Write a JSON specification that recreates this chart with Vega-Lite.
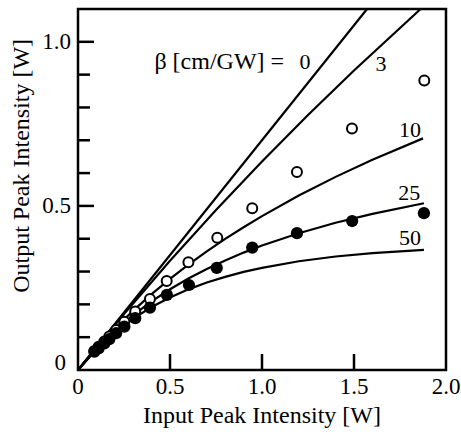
{
  "$schema": "https://vega.github.io/schema/vega-lite/v6.json",
  "width": 368,
  "height": 361,
  "autosize": {"type": "none"},
  "padding": {"left": 78, "top": 9, "right": 15, "bottom": 62},
  "background": "white",
  "config": {
    "view": {"stroke": "black", "strokeWidth": 2.5},
    "font": "Liberation Serif"
  },
  "datasets": {
    "curves": [
      {"beta": "0", "x": 0, "y": 0}, {"beta": "0", "x": 1.571, "y": 1.1},
      {"beta": "3", "x": 0, "y": 0}, {"beta": "3", "x": 0.25, "y": 0.1706}, {"beta": "3", "x": 0.5, "y": 0.3328}, {"beta": "3", "x": 0.75, "y": 0.4875}, {"beta": "3", "x": 1.0, "y": 0.6354}, {"beta": "3", "x": 1.25, "y": 0.777}, {"beta": "3", "x": 1.5, "y": 0.9128}, {"beta": "3", "x": 1.862, "y": 1.1},
      {"beta": "10", "x": 0, "y": 0}, {"beta": "10", "x": 0.1, "y": 0.0663}, {"beta": "10", "x": 0.2, "y": 0.1263}, {"beta": "10", "x": 0.3, "y": 0.1809}, {"beta": "10", "x": 0.4, "y": 0.2312}, {"beta": "10", "x": 0.5, "y": 0.2777}, {"beta": "10", "x": 0.6, "y": 0.3209}, {"beta": "10", "x": 0.7, "y": 0.3614}, {"beta": "10", "x": 0.8, "y": 0.3994}, {"beta": "10", "x": 0.9, "y": 0.4351}, {"beta": "10", "x": 1.0, "y": 0.469}, {"beta": "10", "x": 1.2, "y": 0.5316}, {"beta": "10", "x": 1.4, "y": 0.5885}, {"beta": "10", "x": 1.6, "y": 0.6406}, {"beta": "10", "x": 1.875, "y": 0.7058},
      {"beta": "25", "x": 0, "y": 0}, {"beta": "25", "x": 0.1, "y": 0.0645}, {"beta": "25", "x": 0.2, "y": 0.1197}, {"beta": "25", "x": 0.3, "y": 0.1675}, {"beta": "25", "x": 0.4, "y": 0.2092}, {"beta": "25", "x": 0.5, "y": 0.246}, {"beta": "25", "x": 0.6, "y": 0.2786}, {"beta": "25", "x": 0.7, "y": 0.3078}, {"beta": "25", "x": 0.8, "y": 0.334}, {"beta": "25", "x": 0.9, "y": 0.3577}, {"beta": "25", "x": 1.0, "y": 0.3792}, {"beta": "25", "x": 1.2, "y": 0.4168}, {"beta": "25", "x": 1.4, "y": 0.4486}, {"beta": "25", "x": 1.6, "y": 0.4759}, {"beta": "25", "x": 1.88, "y": 0.508},
      {"beta": "50", "x": 0, "y": 0}, {"beta": "50", "x": 0.1, "y": 0.0631}, {"beta": "50", "x": 0.2, "y": 0.1145}, {"beta": "50", "x": 0.3, "y": 0.1568}, {"beta": "50", "x": 0.4, "y": 0.1919}, {"beta": "50", "x": 0.5, "y": 0.2212}, {"beta": "50", "x": 0.6, "y": 0.2457}, {"beta": "50", "x": 0.7, "y": 0.2664}, {"beta": "50", "x": 0.8, "y": 0.2839}, {"beta": "50", "x": 0.9, "y": 0.2988}, {"beta": "50", "x": 1.0, "y": 0.3114}, {"beta": "50", "x": 1.2, "y": 0.3313}, {"beta": "50", "x": 1.4, "y": 0.3459}, {"beta": "50", "x": 1.6, "y": 0.3564}, {"beta": "50", "x": 1.88, "y": 0.3662}
    ],
    "open": [
      {"x": 1.882, "y": 0.882}, {"x": 1.489, "y": 0.736}, {"x": 1.19, "y": 0.603}, {"x": 0.947, "y": 0.493}, {"x": 0.757, "y": 0.403}, {"x": 0.6, "y": 0.328}, {"x": 0.482, "y": 0.271}, {"x": 0.391, "y": 0.216}, {"x": 0.311, "y": 0.178}, {"x": 0.252, "y": 0.147}, {"x": 0.207, "y": 0.122}, {"x": 0.17, "y": 0.102}, {"x": 0.143, "y": 0.087}, {"x": 0.112, "y": 0.071}, {"x": 0.089, "y": 0.058}
    ],
    "filled": [
      {"x": 1.88, "y": 0.478}, {"x": 1.49, "y": 0.454}, {"x": 1.19, "y": 0.417}, {"x": 0.947, "y": 0.373}, {"x": 0.754, "y": 0.311}, {"x": 0.603, "y": 0.259}, {"x": 0.483, "y": 0.229}, {"x": 0.391, "y": 0.19}, {"x": 0.311, "y": 0.158}, {"x": 0.252, "y": 0.132}, {"x": 0.207, "y": 0.112}, {"x": 0.17, "y": 0.094}, {"x": 0.143, "y": 0.081}, {"x": 0.112, "y": 0.066}, {"x": 0.089, "y": 0.056}
    ],
    "labels": [
      {"x": 1.234, "y": 0.939, "text": "0"},
      {"x": 1.647, "y": 0.931, "text": "3"},
      {"x": 1.804, "y": 0.732, "text": "10"},
      {"x": 1.8, "y": 0.539, "text": "25"},
      {"x": 1.804, "y": 0.401, "text": "50"}
    ],
    "betalabel": [
      {"x": 1.12, "y": 0.939, "text": "β [cm/GW] ="}
    ],
    "xticks": [{"x": 0.5, "y": 0}, {"x": 1.0, "y": 0}, {"x": 1.5, "y": 0}],
    "ymajor": [{"x": 0, "y": 0.5}, {"x": 0, "y": 1.0}],
    "yminor": [{"x": 0, "y": 0.1}, {"x": 0, "y": 0.2}, {"x": 0, "y": 0.3}, {"x": 0, "y": 0.4}, {"x": 0, "y": 0.6}, {"x": 0, "y": 0.7}, {"x": 0, "y": 0.8}, {"x": 0, "y": 0.9}],
    "xlabels": [{"x": 0, "y": 0, "text": "0"}, {"x": 0.5, "y": 0, "text": "0.5"}, {"x": 1.0, "y": 0, "text": "1.0"}, {"x": 1.5, "y": 0, "text": "1.5"}, {"x": 2.0, "y": 0, "text": "2.0"}],
    "ylabels": [{"x": 0, "y": 0.5, "text": "0.5"}, {"x": 0, "y": 1.0, "text": "1.0"}],
    "yzero": [{"x": 0, "y": 0, "text": "0"}],
    "xtitle": [{"x": 1.0, "y": 0, "text": "Input Peak Intensity [W]"}],
    "ytitle": [{"x": -0.304, "y": 0.622, "text": "Output Peak Intensity [W]"}]
  },
  "layer": [
    {
      "data": {"name": "curves"},
      "mark": {"type": "line", "color": "black", "strokeWidth": 2.2},
      "encoding": {
        "x": {"field": "x", "type": "quantitative", "scale": {"domain": [0, 2], "nice": false, "zero": false}, "axis": null},
        "y": {"field": "y", "type": "quantitative", "scale": {"domain": [0, 1.1], "nice": false, "zero": false}, "axis": null},
        "detail": {"field": "beta"}
      }
    },
    {
      "data": {"name": "xticks"},
      "mark": {"type": "tick", "orient": "vertical", "size": 16, "thickness": 2.5, "yOffset": -8, "color": "black", "opacity": 1},
      "encoding": {
        "x": {"field": "x", "type": "quantitative", "axis": null},
        "y": {"field": "y", "type": "quantitative", "axis": null}
      }
    },
    {
      "data": {"name": "ymajor"},
      "mark": {"type": "tick", "orient": "horizontal", "size": 16, "thickness": 2.5, "xOffset": 8, "color": "black", "opacity": 1},
      "encoding": {
        "x": {"field": "x", "type": "quantitative", "axis": null},
        "y": {"field": "y", "type": "quantitative", "axis": null}
      }
    },
    {
      "data": {"name": "yminor"},
      "mark": {"type": "tick", "orient": "horizontal", "size": 12, "thickness": 2.5, "xOffset": 6, "color": "black", "opacity": 1},
      "encoding": {
        "x": {"field": "x", "type": "quantitative", "axis": null},
        "y": {"field": "y", "type": "quantitative", "axis": null}
      }
    },
    {
      "data": {"name": "open"},
      "mark": {"type": "point", "shape": "circle", "filled": false, "fill": "white", "stroke": "black", "strokeWidth": 2, "size": 100, "opacity": 1},
      "encoding": {
        "x": {"field": "x", "type": "quantitative", "axis": null},
        "y": {"field": "y", "type": "quantitative", "axis": null}
      }
    },
    {
      "data": {"name": "filled"},
      "mark": {"type": "circle", "color": "black", "size": 150, "opacity": 1},
      "encoding": {
        "x": {"field": "x", "type": "quantitative", "axis": null},
        "y": {"field": "y", "type": "quantitative", "axis": null}
      }
    },
    {
      "data": {"name": "labels"},
      "mark": {"type": "text", "font": "Liberation Serif", "fontSize": 22, "color": "black", "baseline": "middle", "align": "center"},
      "encoding": {
        "x": {"field": "x", "type": "quantitative", "axis": null},
        "y": {"field": "y", "type": "quantitative", "axis": null},
        "text": {"field": "text"}
      }
    },
    {
      "data": {"name": "betalabel"},
      "mark": {"type": "text", "font": "Liberation Serif", "fontSize": 24, "color": "black", "baseline": "middle", "align": "right"},
      "encoding": {
        "x": {"field": "x", "type": "quantitative", "axis": null},
        "y": {"field": "y", "type": "quantitative", "axis": null},
        "text": {"field": "text"}
      }
    },
    {
      "data": {"name": "xlabels"},
      "mark": {"type": "text", "font": "Liberation Serif", "fontSize": 23, "color": "black", "baseline": "top", "align": "center", "dy": 6},
      "encoding": {
        "x": {"field": "x", "type": "quantitative", "axis": null},
        "y": {"field": "y", "type": "quantitative", "axis": null},
        "text": {"field": "text"}
      }
    },
    {
      "data": {"name": "ylabels"},
      "mark": {"type": "text", "font": "Liberation Serif", "fontSize": 23, "color": "black", "baseline": "middle", "align": "right", "dx": -7},
      "encoding": {
        "x": {"field": "x", "type": "quantitative", "axis": null},
        "y": {"field": "y", "type": "quantitative", "axis": null},
        "text": {"field": "text"}
      }
    },
    {
      "data": {"name": "yzero"},
      "mark": {"type": "text", "font": "Liberation Serif", "fontSize": 23, "color": "black", "baseline": "alphabetic", "align": "right", "dx": -12},
      "encoding": {
        "x": {"field": "x", "type": "quantitative", "axis": null},
        "y": {"field": "y", "type": "quantitative", "axis": null},
        "text": {"field": "text"}
      }
    },
    {
      "data": {"name": "xtitle"},
      "mark": {"type": "text", "font": "Liberation Serif", "fontSize": 24, "color": "black", "baseline": "alphabetic", "align": "center", "dy": 53},
      "encoding": {
        "x": {"field": "x", "type": "quantitative", "axis": null},
        "y": {"field": "y", "type": "quantitative", "axis": null},
        "text": {"field": "text"}
      }
    },
    {
      "data": {"name": "ytitle"},
      "mark": {"type": "text", "font": "Liberation Serif", "fontSize": 24, "color": "black", "baseline": "middle", "align": "center", "angle": 270},
      "encoding": {
        "x": {"field": "x", "type": "quantitative", "axis": null},
        "y": {"field": "y", "type": "quantitative", "axis": null},
        "text": {"field": "text"}
      }
    }
  ]
}
